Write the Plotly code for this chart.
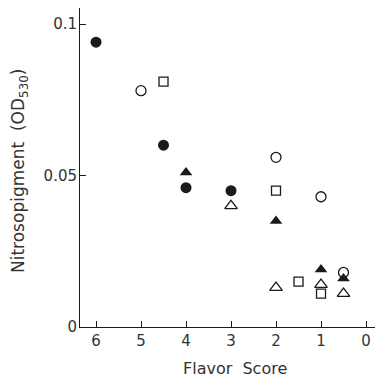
import plotly.graph_objects as go

# Flavor score vs. nitrosopigment (OD530), five sample groups
fc_x = [6, 4.5, 4, 3]
fc_y = [0.094, 0.060, 0.046, 0.045]

oc_x = [5, 2, 1, 0.5]
oc_y = [0.078, 0.056, 0.043, 0.018]

os_x = [4.5, 2, 1.5, 1]
os_y = [0.081, 0.045, 0.015, 0.011]

ft_x = [4, 2, 1, 0.5]
ft_y = [0.051, 0.035, 0.019, 0.016]

ot_x = [3, 2, 1, 0.5]
ot_y = [0.040, 0.013, 0.014, 0.011]

x_ticks = [6, 5, 4, 3, 2, 1, 0]
y_ticks = [0, 0.05, 0.1]
y_tick_text = ["0", "0.05", "0.1"]

INK = "#1a1a1a"
FONT = "DejaVu Sans, sans-serif"

W, H = 378, 379
ML, MR, MT, MB = 80, 3, 8, 52
PW, PH = W - ML - MR, H - MT - MB

fig = go.Figure()

def add(xs, ys, symbol, size, filled):
    fig.add_trace(go.Scatter(
        x=xs, y=ys, mode="markers",
        marker=dict(
            symbol=symbol, size=size,
            color=INK if filled else "white",
            line=dict(color=INK, width=0 if filled else 1.3),
        ),
        showlegend=False, cliponaxis=False,
    ))

add(fc_x, fc_y, "circle", 11, True)
add(oc_x, oc_y, "circle", 10, False)
add(os_x, os_y, "square", 9, False)
add(ft_x, ft_y, "triangle-up", 11, True)
add(ot_x, ot_y, "triangle-up", 11, False)

# axis titles placed as paper-anchored annotations
fig.add_annotation(
    text="Flavor  Score", xref="paper", yref="paper",
    x=(234.5 - ML) / PW, y=-(368 - MT - PH) / PH,
    xanchor="center", yanchor="middle", showarrow=False,
    font=dict(size=16, family=FONT, color="#333"),
)
fig.add_annotation(
    text="Nitrosopigment  (OD<sub>530</sub>)", xref="paper", yref="paper",
    x=(19 - ML) / PW, y=(MT + PH - 171) / PH, textangle=-90,
    xanchor="center", yanchor="middle", showarrow=False,
    font=dict(size=17, family=FONT, color="#333"),
)

fig.update_layout(
    width=W, height=H,
    margin=dict(l=ML, r=MR, t=MT, b=MB),
    paper_bgcolor="white", plot_bgcolor="white",
    font=dict(family=FONT, color="#333", size=15),
    xaxis=dict(
        range=[6.356, -0.2], tickvals=x_ticks,
        ticks="inside", ticklen=6, tickwidth=1, tickcolor=INK,
        showline=True, linecolor=INK, linewidth=1,
        showgrid=False, zeroline=False,
        tickfont=dict(size=15),
    ),
    yaxis=dict(
        range=[0, 0.1053], tickvals=y_ticks, ticktext=y_tick_text,
        ticks="inside", ticklen=6, tickwidth=1, tickcolor=INK,
        showline=True, linecolor=INK, linewidth=1,
        showgrid=False, zeroline=False,
        tickfont=dict(size=15), ticklabelstandoff=-1,
    ),
)

fig.write_html("out.html")
